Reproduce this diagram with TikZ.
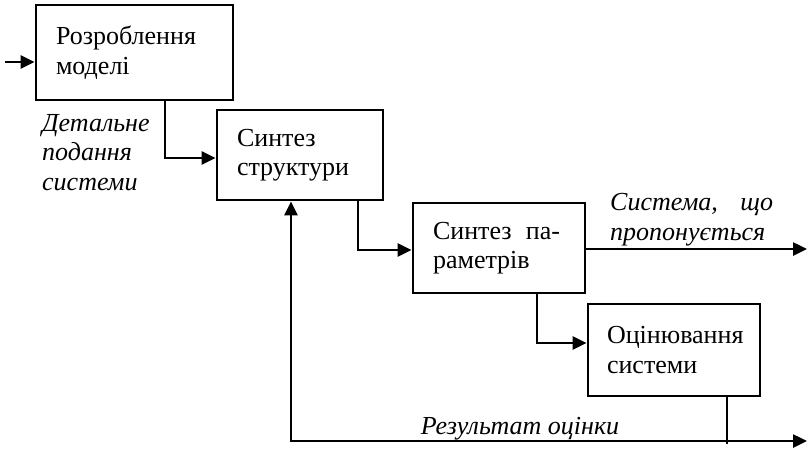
\documentclass[tikz,border=0pt]{standalone}
\usepackage{fontspec}
\setmainfont{Liberation Serif}
\usetikzlibrary{arrows.meta}
\begin{document}
\begin{tikzpicture}[x=1pt,y=-1pt,
  txt/.style={font=\fontsize{26}{29.5}\selectfont},
  lbl/.style={txt, font=\fontsize{26}{29.5}\selectfont\itshape, inner sep=0pt, align=left},
  blk/.style={draw, line width=2.8pt, txt, align=left, inner ysep=0pt, inner xsep=20pt},
  tip/.style={Triangle[length=14pt,width=13pt]},
  conn/.style={line width=2.5pt, -{Triangle[length=14pt,width=13pt]}},
  line/.style={line width=2.5pt}]
\useasboundingbox (0,0) rectangle (810,451);

% process blocks
\node[blk, text width=157pt, minimum height=95pt] (b1) at (134.5,52.5) {Розроблення\\моделі};
\node[blk, text width=126pt, minimum height=90pt] (b2) at (300,155) {Синтез\\структури};
\node[blk, text width=132pt, minimum height=90pt] (b3) at (499,248) {Синтез\hspace{0.55em}па-\\раметрів};
\node[blk, text width=134pt, inner xsep=19pt, minimum height=92pt] (b4) at (674,350) {Оцінювання\\системи};

% free ends of connectors
\coordinate (in) at (5,62);
\coordinate (o1) at (807,249);
\coordinate (fb) at (291,441);
\coordinate (o2) at (807,441);

% connectors
\draw[conn] (in) -- (in -| b1.west);
\draw[conn] (b1.south -| 165,0) |- (b2.west |- 0,158);
\draw[conn] (b2.south -| 358,0) |- (b3.west |- 0,250);
\draw[conn] (b3.south -| 537,0) |- (b4.west |- 0,343);
\draw[conn] (b3.east |- o1) -- (o1);
\draw[line] (b4.south -| 727,0) -- (727,444);
\draw[line, {Triangle[length=14pt,width=13pt]}-{Triangle[length=14pt,width=13pt]}]
  (fb |- b2.south) -- (fb) -- (o2);

% labels (base anchor sits on the last line)
\node[lbl, anchor=base west] (l1) at (42,190) {Детальне\\подання\\системи};
\node[lbl, anchor=base west] (l2) at (610,240) {\makebox[163pt][s]{Система, що}\\пропонується};
\node[lbl, anchor=base] (l3) at (520,434) {Результат оцінки};
\end{tikzpicture}
\end{document}
